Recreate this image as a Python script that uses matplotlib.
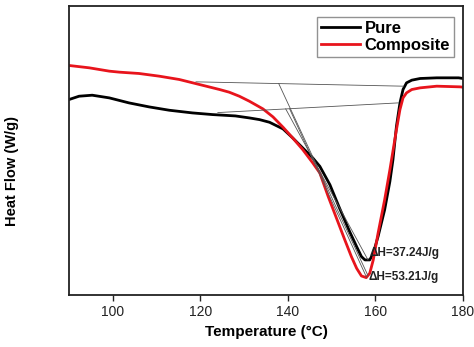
import matplotlib.pyplot as plt
import numpy as np

plt.rcParams['font.family'] = ['Liberation Sans', 'DejaVu Sans']

# DSC curves (arbitrary heat flow units)
temp_pure = [90, 92.3, 95.3, 99.2, 103.7, 108.3, 112.9, 118.2, 122.8, 128, 131.2, 133.5, 135.8,
             138.9, 141.1, 143.4, 145.7, 147.3, 149.6, 151.8, 154.1, 155.7, 156.8, 157.6, 158.7,
             159.5, 160.6, 162.1, 163.3, 164.0, 164.8, 165.6, 166.3, 167.1, 168.3, 170.2, 174, 179, 180]
flow_pure = [5.85, 5.95, 5.98, 5.90, 5.75, 5.63, 5.53, 5.45, 5.40, 5.36, 5.30, 5.25, 5.17,
             4.97, 4.70, 4.40, 4.10, 3.85, 3.30, 2.60, 1.90, 1.45, 1.15, 1.05, 1.05,
             1.25, 1.75, 2.55, 3.40, 4.05, 5.05, 5.75, 6.15, 6.35, 6.43, 6.48, 6.50, 6.50, 6.48]

temp_comp = [90, 94.6, 99.2, 101.5, 106, 110.6, 115.2, 119.8, 124.4, 126.6, 128.9, 131.2, 134.3,
             136.6, 138.9, 141.1, 143.4, 145.7, 147.3, 149.2, 151.1, 153, 154.5, 155.7, 156.8,
             157.9, 158.7, 159.5, 160.6, 162.1, 163.3, 164.8, 165.6, 166.3, 167.1, 168.3, 170.2,
             174, 179.3, 180]
flow_comp = [6.87, 6.80, 6.70, 6.67, 6.63, 6.55, 6.45, 6.30, 6.15, 6.07, 5.95, 5.80, 5.57,
             5.33, 5.02, 4.70, 4.35, 3.95, 3.65, 2.95, 2.30, 1.65, 1.15, 0.80, 0.57,
             0.52, 0.65, 1.05, 1.85, 2.85, 3.75, 4.95, 5.55, 5.90, 6.05, 6.15, 6.20,
             6.25, 6.23, 6.22]

# thin construction lines (baselines and onset tangents)
baseline_comp = ([119, 166.4], [6.38, 6.25])
baseline_pure = ([124, 165.2], [5.46, 5.75])
tangents = [([137.9, 158.3], [6.33, 0.58]),
            ([139.5, 158.3], [5.57, 1.05]),
            ([140.4, 158.0], [5.57, 0.52])]

labels = ["Pure", "Composite"]
enthalpy = ["ΔH=37.24J/g", "ΔH=53.21J/g"]

fig = plt.figure(figsize=(4.74, 3.47), dpi=100)
ax = fig.add_axes([69/474, 1 - 295/347, (463-69)/474, (295-6)/347])

ax.plot(temp_pure, flow_pure, color="black", lw=2.0, label=labels[0], solid_joinstyle="round")
ax.plot(temp_comp, flow_comp, color="#e8141c", lw=2.0, label=labels[1], solid_joinstyle="round")

for xs, ys in [baseline_comp, baseline_pure] + tangents:
    ax.plot(xs, ys, color="#555555", lw=0.6)

ax.text(158.6, 1.25, enthalpy[0], fontsize=8.5, fontweight="bold", color="#222222", va="center")
ax.text(158.4, 0.55, enthalpy[1], fontsize=8.5, fontweight="bold", color="#222222", va="center")

ax.set_xlim(90, 180)
ax.set_ylim(0, 8.65)
ax.set_xticks([100, 120, 140, 160, 180])
ax.set_yticks([])
ax.tick_params(axis="x", direction="out", length=4, width=1, labelsize=10, colors="#222222")
for s in ax.spines.values():
    s.set_linewidth(1.3)
    s.set_color("#222222")

ax.set_xlabel("Temperature (°C)", fontsize=11, fontweight="bold", labelpad=4)
ax.set_ylabel("Heat Flow (W/g)", fontsize=10.5, fontweight="bold")
ax.yaxis.set_label_coords(-0.127, 0.43)

leg = ax.legend(loc="upper right", bbox_to_anchor=(0.978, 0.962), fancybox=False,
                prop={"weight": "bold", "size": 12}, handlelength=2.3,
                handletextpad=0.3, borderpad=0.25, labelspacing=0.1, borderaxespad=0)
leg.get_frame().set_edgecolor("#777777")
leg.get_frame().set_linewidth(1.0)

fig.savefig("out.png", dpi=100)
